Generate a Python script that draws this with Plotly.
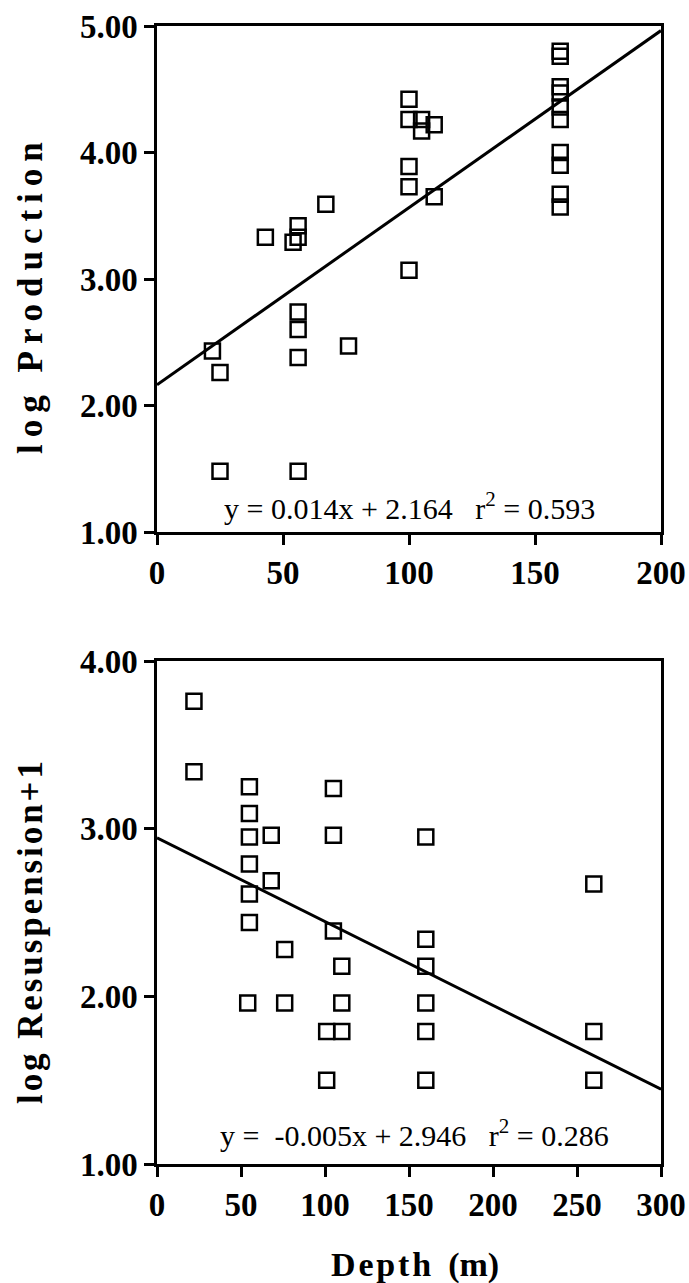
import plotly.graph_objects as go

# top panel: depth vs log production
prod_depth = [22, 25, 25, 43, 54, 56, 56, 56, 56, 56, 56, 67, 76,
              100, 100, 100, 100, 100, 105, 105, 110, 110,
              160, 160, 160, 160, 160, 160, 160, 160, 160, 160]
prod_log = [2.43, 2.26, 1.48, 3.33, 3.29, 3.42, 3.33, 2.74, 2.60, 2.38, 1.48, 3.59, 2.47,
            4.42, 4.26, 3.89, 3.73, 3.07, 4.26, 4.17, 4.22, 3.65,
            4.80, 4.76, 4.52, 4.47, 4.36, 4.26, 4.00, 3.90, 3.67, 3.57]
prod_fit = (0.014, 2.164)

# bottom panel: depth vs log resuspension+1
res_depth = [22, 22, 55, 55, 55, 55, 55, 55, 54, 68, 68, 76, 76,
             105, 105, 105, 101, 110, 110, 110, 101,
             160, 160, 160, 160, 160, 160, 260, 260, 260]
res_log = [3.76, 3.34, 3.25, 3.09, 2.95, 2.79, 2.61, 2.44, 1.96, 2.96, 2.69, 2.28, 1.96,
           3.24, 2.96, 2.39, 1.79, 1.79, 2.18, 1.96, 1.50,
           2.95, 2.34, 2.18, 1.96, 1.79, 1.50, 2.67, 1.79, 1.50]
res_fit = (-0.005, 2.946)

SERIF = "Liberation Serif, Times New Roman, serif"
W, H = 689, 1283
marker = dict(symbol="square-open", size=15, color="black", line=dict(width=2.5, color="black"))


def spaced(s, gap="\u2009"):
    # the original titles are letter-spaced
    return gap.join(s)


def note(text, x, y, size, bold=False, angle=0):
    font = dict(family=SERIF, size=size, color="black")
    if bold:
        font["weight"] = "bold"
    return dict(text=text, xref="paper", yref="paper", x=x / W, y=1 - y / H,
                xanchor="center", yanchor="middle", textangle=angle,
                showarrow=False, font=font)


fig = go.Figure()
fig.add_trace(go.Scatter(x=prod_depth, y=prod_log, mode="markers", marker=marker,
                         xaxis="x", yaxis="y"))
fig.add_trace(go.Scatter(x=[0, 200], y=[prod_fit[1], prod_fit[1] + prod_fit[0] * 200],
                         mode="lines", line=dict(color="black", width=3), xaxis="x", yaxis="y"))
fig.add_trace(go.Scatter(x=res_depth, y=res_log, mode="markers", marker=marker,
                         xaxis="x2", yaxis="y2"))
fig.add_trace(go.Scatter(x=[0, 300], y=[res_fit[1], res_fit[1] + res_fit[0] * 300],
                         mode="lines", line=dict(color="black", width=3), xaxis="x2", yaxis="y2"))

axis_common = dict(showline=True, linecolor="black", linewidth=2.5, mirror=True,
                   ticks="outside", ticklen=10, tickwidth=2.5, tickcolor="black",
                   showgrid=False, zeroline=False, automargin=False,
                   tickfont=dict(family=SERIF, size=33, color="black", weight="bold"))

xdom = [157 / W, 661 / W]
fig.update_layout(
    width=W, height=H,
    margin=dict(l=0, r=0, t=0, b=0),
    paper_bgcolor="white", plot_bgcolor="white",
    showlegend=False,
    xaxis=dict(axis_common, domain=xdom, range=[0, 200], dtick=50, anchor="y"),
    yaxis=dict(axis_common, domain=[1 - 532 / H, 1 - 26 / H], range=[1, 5], dtick=1,
               tickformat=".2f", anchor="x"),
    xaxis2=dict(axis_common, domain=xdom, range=[0, 300], dtick=50, anchor="y2"),
    yaxis2=dict(axis_common, domain=[1 - 1164 / H, 1 - 661 / H], range=[1, 4], dtick=1,
                tickformat=".2f", anchor="x2"),
    annotations=[
        note("y = 0.014x + 2.164   r<sup>2</sup> = 0.593", 409, 506, 30),
        note("y =  -0.005x + 2.946   r<sup>2</sup> = 0.286", 414, 1133, 30),
        note(spaced("log Production"), 30, 298, 35, bold=True, angle=-90),
        note(spaced("log Resuspension+1", "\u200a"), 30, 933, 35, bold=True, angle=-90),
        note("D\u200ae\u200ap\u200at\u200ah  (m)", 415, 1265, 34, bold=True),
    ],
)

fig.write_html("out.html", config={"displayModeBar": False},
               post_script="document.body.style.margin='0';document.body.style.overflow='hidden';")
